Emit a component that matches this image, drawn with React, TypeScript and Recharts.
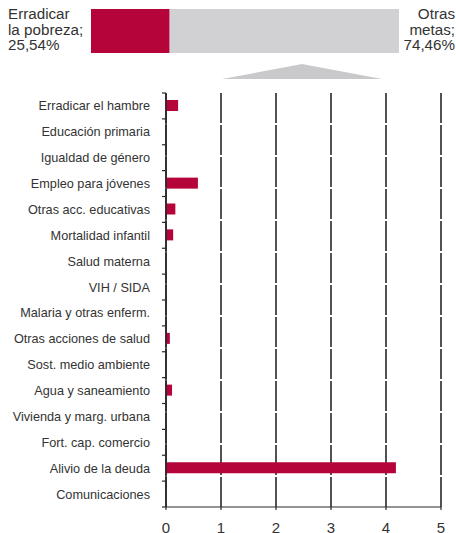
import React from 'react';
import { BarChart, Bar, XAxis, YAxis, CartesianGrid } from 'recharts';

const categories = [
  'Erradicar el hambre',
  'Educación primaria',
  'Igualdad de género',
  'Empleo para jóvenes',
  'Otras acc. educativas',
  'Mortalidad infantil',
  'Salud materna',
  'VIH / SIDA',
  'Malaria y otras enferm.',
  'Otras acciones de salud',
  'Sost. medio ambiente',
  'Agua y saneamiento',
  'Vivienda y marg. urbana',
  'Fort. cap. comercio',
  'Alivio de la deuda',
  'Comunicaciones',
];
const values = [0.22, 0, 0, 0.58, 0.17, 0.13, 0, 0, 0, 0.07, 0, 0.11, 0, 0, 4.18, 0];
const xTicks = [0, 1, 2, 3, 4, 5];

const shareNames = ['Erradicar la pobreza', 'Otras metas'];
const shareValues = [25.54, 74.46];

const RED = '#b5043a';
const GRAY = '#d1d1d3';
const TEXT = '#333';
const AXIS = '#2a2a2a';
const FONT = '"Liberation Sans", Arial, sans-serif';

const mainData = categories.map((c, i) => ({ name: c, value: values[i] }));
const shareData = [{ name: 'total', a: shareValues[0], b: shareValues[1] }];

const fmt = (v: number) => v.toFixed(2).replace('.', ',') + '%';

const YTick = (props: any) => {
  const { x, y, payload, index } = props;
  const off = payload && typeof payload.offset === 'number' && payload.offset > 0 ? payload.offset : 13;
  const x1 = x + 12;
  const x2 = x1 + 4;
  return (
    <g>
      <text x={x} y={y} dy="0.35em" textAnchor="end" fill={TEXT} fontSize={12.7} fontFamily={FONT}>
        {payload.value}
      </text>
      {index === 0 && <line x1={x1} x2={x2} y1={y - off} y2={y - off} stroke={AXIS} strokeWidth={1.2} />}
      <line x1={x1} x2={x2} y1={y + off} y2={y + off} stroke={AXIS} strokeWidth={1.2} />
    </g>
  );
};

export default function App() {
  const leftLines = ['Erradicar', 'la pobreza;', fmt(shareValues[0])];
  const rightLines = ['Otras', 'metas;', fmt(shareValues[1])];
  return (
    <div style={{ position: 'absolute', left: 0, top: 0, width: 456, height: 533, background: '#fff', overflow: 'hidden', fontFamily: FONT }}>
      <div style={{ position: 'absolute', left: 0, top: 0 }}>
        <BarChart
          width={456}
          height={533}
          data={mainData}
          layout="vertical"
          margin={{ top: 93, right: 15, left: 0, bottom: 0 }}
        >
          <CartesianGrid horizontal={false} vertical={true} stroke="#1a1a1a" strokeWidth={1.5} strokeDasharray="30 2" />
          <XAxis
            type="number"
            domain={[0, 5]}
            ticks={xTicks}
            axisLine={{ stroke: AXIS, strokeWidth: 1.2 }}
            tickLine={{ stroke: AXIS, strokeWidth: 1.2 }}
            tickSize={3}
            tickMargin={12}
            height={26}
            tick={{ fill: TEXT, fontSize: 15, fontFamily: FONT }}
          />
          <YAxis
            type="category"
            dataKey="name"
            width={166}
            tickSize={4}
            tickMargin={12}
            tickLine={false}
            axisLine={{ stroke: AXIS, strokeWidth: 1.6 }}
            interval={0}
            tick={<YTick />}
          />
          <Bar dataKey="value" fill={RED} barSize={11} isAnimationActive={false} />
        </BarChart>
      </div>

      <div style={{ position: 'absolute', left: 91, top: 9 }}>
        <BarChart width={308} height={44} data={shareData} layout="vertical" margin={{ top: 0, right: 0, left: 0, bottom: 0 }} barCategoryGap={0}>
          <XAxis type="number" domain={[0, 100]} hide />
          <YAxis type="category" dataKey="name" hide />
          <Bar dataKey="a" stackId="s" fill={RED} name={shareNames[0]} isAnimationActive={false} />
          <Bar dataKey="b" stackId="s" fill={GRAY} name={shareNames[1]} isAnimationActive={false} />
        </BarChart>
      </div>

      <div style={{ position: 'absolute', left: 8, top: 6, fontSize: 15.2, lineHeight: '15.5px', color: TEXT, textAlign: 'left' }}>
        {leftLines.map((l, i) => (
          <div key={i}>{l}</div>
        ))}
      </div>
      <div style={{ position: 'absolute', right: 1, top: 6, fontSize: 15.2, lineHeight: '15.5px', color: TEXT, textAlign: 'right' }}>
        {rightLines.map((l, i) => (
          <div key={i}>{l}</div>
        ))}
      </div>

      <svg style={{ position: 'absolute', left: 0, top: 0 }} width={456} height={90}>
        <polygon points="222,79 302,64 382,79" fill="#c9c9cb" />
      </svg>
    </div>
  );
}
